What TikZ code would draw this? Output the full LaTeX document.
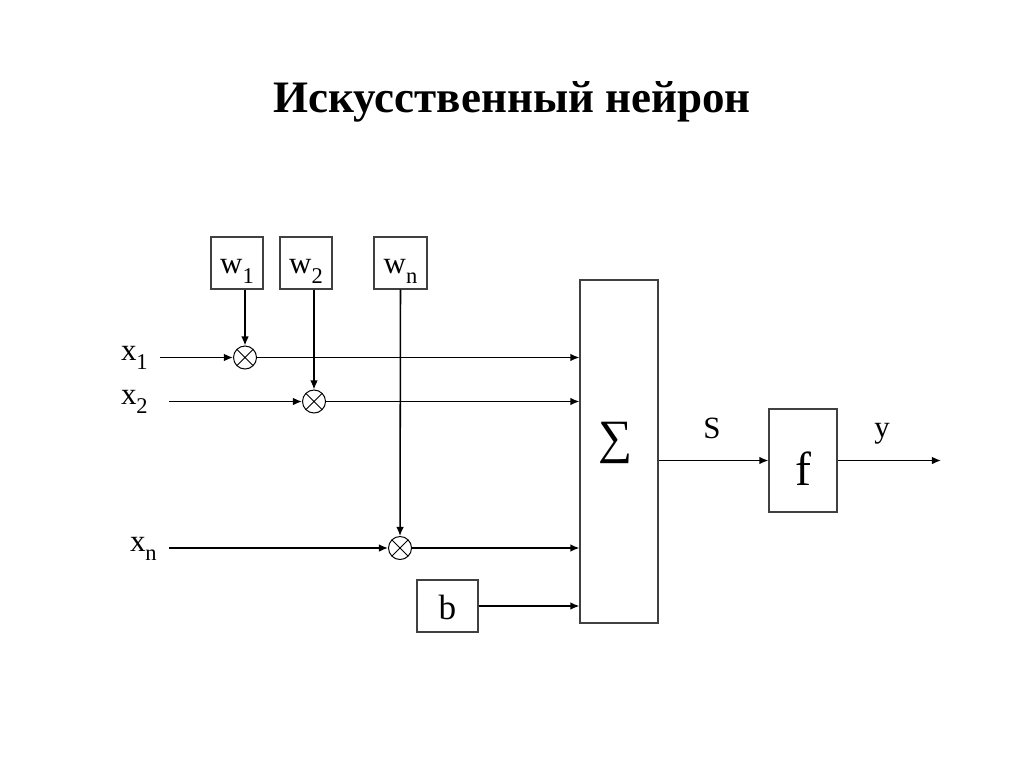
\documentclass[tikz,border=0pt]{standalone}
\usepackage{fontspec}
\setmainfont{Liberation Serif}
\usepackage{tikz}
\usetikzlibrary{arrows.meta}
\usetikzlibrary{positioning}
\tikzset{>={Latex[length=6.5pt,width=5.5pt]}}
\tikzset{
	blok/.style={draw=black!75,line width=0.8pt,inner sep=0pt,font=\fontsize{22}{26}\selectfont},
	wbox/.style={blok,minimum width=1.3cm,minimum height=1.3cm,text height=15.6pt,text depth=0pt},
	mult/.style={draw,circle,minimum size=0.575cm,inner sep=0pt,line width=0.7pt,
		path picture={\draw[line width=0.6pt] (path picture bounding box.south west)--(path picture bounding box.north east)
			(path picture bounding box.north west)--(path picture bounding box.south east);}},
	lbl/.style={inner sep=0pt,font=\fontsize{22}{26}\selectfont},
	big/.style={inner sep=0pt,font=\fontsize{34}{40}\selectfont},
	wire/.style={->,line width=1.1pt},
}
\newcommand{\lowsub}[1]{\raisebox{-7pt}{\fontsize{16}{18}\selectfont #1}}

\begin{document}
\begin{tikzpicture}[x=0.025cm,y=-0.025cm]
	\useasboundingbox (0,0) rectangle (1024,767);
	\node[anchor=base,inner sep=0pt,font=\fontsize{32}{38}\selectfont\bfseries] (titel) at (512,113) {Искусственный нейрон};
	% weights
	\node[wbox] (w1) at (237,263) {w\lowsub{1}};
	\node[wbox] (w2) at (306,263) {w\lowsub{2}};
	\node[wbox,minimum width=1.325cm] (wn) at (400.5,263) {w\lowsub{n}};
	\node[blok,minimum width=1.525cm,minimum height=1.3cm,text height=18.5pt,text depth=0pt,font=\fontsize{25}{30}\selectfont] (b) at (447.5,606) {b};
	% multipliers
	\node[mult] (m1) at (245,357.5) {};
	\node[mult] (m2) at (314,401.5) {};
	\node[mult] (mn) at (400,548) {};
	% inputs
	\coordinate (in1) at (160,357.5);
	\coordinate (in2) at (169,401.5);
	\coordinate (inn) at (169,548);
	\node[lbl,anchor=base east] (x1) at (148,360) {x\lowsub{1}};
	\node[lbl,anchor=base east] (x2) at (148,404) {x\lowsub{2}};
	\node[lbl,anchor=base east] (xn) at (157,551) {x\lowsub{n}};
	% adder and activation
	\node[blok,minimum width=1.95cm,minimum height=8.575cm] (sum) at (619,451.5) {};
	\node[big] (sigma) at (616,443) {∑};
	\node[blok,minimum width=1.7cm,minimum height=2.575cm] (f) at (803,460.5) {};
	\node[big,anchor=base] (fname) at (803,485) {f};
	\coordinate (out) at (941,460.5);
	\node[lbl,anchor=base] (s) at (712,438) {S};
	\node[lbl,anchor=base] (y) at (882,437) {y};
	\draw[wire] (m1.center |- w1.south)--(m1.north);
	\draw[wire] (m2.center |- w2.south)--(m2.north);
	\draw[wire] (wn.south)--(mn.north);
	\draw[wire] (in1)--(m1.west);
	\draw[wire] (in2)--(m2.west);
	\draw[wire] (inn)--(mn.west);
	\draw[wire] (m1.east)--(m1 -| sum.west);
	\draw[wire] (m2.east)--(m2 -| sum.west);
	\draw[wire] (mn.east)--(mn -| sum.west);
	\draw[wire] (b.east)--(b -| sum.west);
	\draw[wire] (f.west -| sum.east)--(f.west);
	\draw[wire] (f.east)--(out);
\end{tikzpicture}
\end{document}
